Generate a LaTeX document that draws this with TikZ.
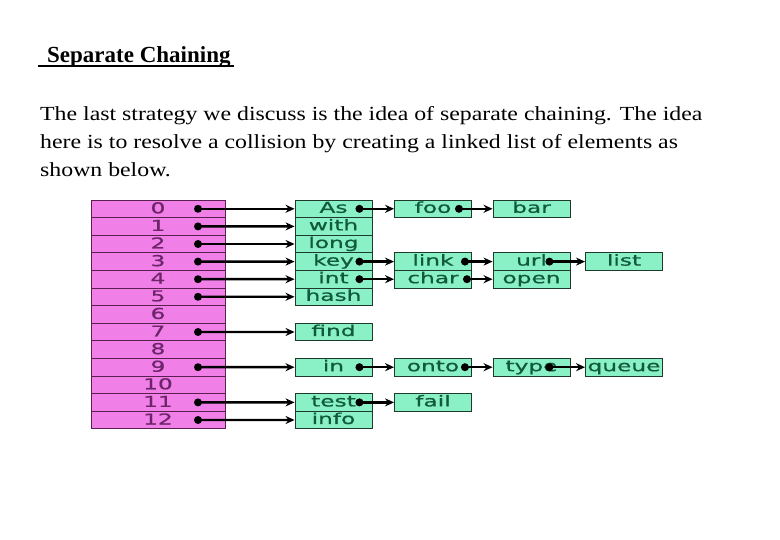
\documentclass[tikz,border=0pt]{standalone}
\usepackage{fontspec}
\setmainfont{Liberation Serif}
\newfontfamily\bodyfont[FakeStretch=1.19]{Liberation Serif}
\newfontfamily\cellfont[FakeStretch=1.55,FakeBold=0.8]{DejaVu Sans}
\usetikzlibrary{arrows.meta}
\definecolor{pinkfill}{HTML}{F080E8}
\definecolor{greenfill}{HTML}{8AF0C6}
\definecolor{numcol}{HTML}{6E2468}
\definecolor{wordcol}{HTML}{105A3A}
\definecolor{pinkline}{HTML}{5A2050}
\definecolor{greenline}{HTML}{1E3A2A}
\begin{document}
\begin{tikzpicture}[x=1pt,y=-1pt,
  slot/.style={draw=pinkline, fill=pinkfill, line width=0.9pt, minimum width=134pt, minimum height=17.6pt,
    inner sep=0pt, text=numcol, text height=10.5pt, text depth=1.5pt,
    font=\cellfont\fontsize{15}{15}\selectfont},
  elem/.style={draw=greenline, fill=greenfill, line width=0.9pt, minimum width=77pt, minimum height=17.6pt,
    inner sep=0pt, text=wordcol, text height=10.5pt, text depth=2.5pt,
    font=\cellfont\fontsize{15}{15}\selectfont},
  ptr/.style={line width=2.4pt, -{Stealth[length=9pt,width=8pt]}},
  body/.style={anchor=base west, inner sep=0pt, font=\bodyfont\fontsize{20}{24}\selectfont}]
\useasboundingbox (0,0) rectangle (780,540);
% title and text
\node[anchor=base west, inner sep=0pt, font=\bfseries\fontsize{23}{26}\selectfont] (title) at (47,62.5) {Separate Chaining};
\draw[line width=1.8pt] ([xshift=-9pt,yshift=-3.5pt]title.base west) -- ([xshift=3pt,yshift=-3.5pt]title.base east);
\node[body] (l1) at (40,121) {The last strategy we discuss is the idea of separate chaining. The idea};
\node[body] (l2) at (40,149) {here is to resolve a collision by creating a linked list of elements as};
\node[body] (l3) at (40,177) {shown below.};
% table
\foreach \i in {0,...,12}
  \node[slot] (r\i) at (158,{208.8+17.6*\i}) {\i};
% column 1
\node[elem] (As)   at (333.5,208.8) {As};
\node[elem] (with) at (333.5,226.4) {with};
\node[elem] (long) at (333.5,244.0) {long};
\node[elem] (key)  at (333.5,261.6) {key};
\node[elem] (int)  at (333.5,279.2) {int};
\node[elem] (hash) at (333.5,296.8) {hash};
\node[elem] (find) at (333.5,332.0) {find};
\node[elem] (in)   at (333.5,367.2) {in};
\node[elem] (test) at (333.5,402.4) {test};
\node[elem] (info) at (333.5,420.0) {info};
% column 2
\node[elem] (foo)  at (433,208.8) {foo};
\node[elem] (link) at (433,261.6) {link};
\node[elem] (char) at (433,279.2) {char};
\node[elem] (onto) at (433,367.2) {onto};
\node[elem] (fail) at (433,402.4) {fail};
% column 3
\node[elem] (bar)  at (531.5,208.8) {bar};
\node[elem] (url)  at (531.5,261.6) {url};
\node[elem] (open) at (531.5,279.2) {open};
\node[elem] (type) at (531.5,367.2) {type};
% column 4
\node[elem] (list)  at (624,261.6) {list};
\node[elem] (queue) at (624,367.2) {queue};
% pointers from table
\foreach \i/\t in {0/As,1/with,2/long,3/key,4/int,5/hash,7/find,9/in,11/test,12/info}{
  \coordinate (p\i) at ([xshift=40pt]r\i.center);
  \fill (p\i) circle (4pt);
  \draw[ptr] (p\i) -- (\t.west);
}
% pointers between list elements
\foreach \s/\t/\d in {As/foo/13,key/link/13,int/char/13,in/onto/13,test/fail/13,
                      foo/bar/13,link/url/7,char/open/5,onto/type/7,
                      url/list/21,type/queue/21}{
  \coordinate (q\s) at ([xshift=-\d pt]\s.east);
  \fill (q\s) circle (4pt);
  \draw[ptr] (q\s) -- (\t.west);
}
\end{tikzpicture}
\end{document}
